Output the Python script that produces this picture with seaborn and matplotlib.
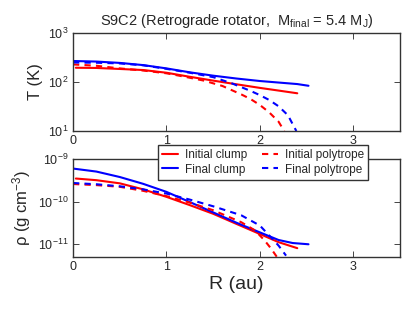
import pandas as pd
import seaborn as sns
import matplotlib
matplotlib.use('Agg')
import matplotlib.pyplot as plt
from matplotlib.ticker import NullLocator, FixedLocator

# temperature profiles (K) vs R (au)
r_T_ic = [0.03, 0.25, 0.5, 0.75, 1.0, 1.25, 1.5, 1.75, 2.0, 2.2, 2.4]
T_ic = [196, 194, 185, 176, 155, 128, 107, 90, 76, 67, 59]
r_T_fc = [0.0, 0.25, 0.5, 0.75, 1.0, 1.25, 1.5, 1.75, 2.0, 2.25, 2.4, 2.52]
T_fc = [269, 262, 246, 222, 190, 158, 135, 118, 105, 96, 91, 84]
r_T_ip = [0.0, 0.25, 0.5, 0.75, 1.0, 1.2, 1.4, 1.6, 1.8, 1.9, 2.0, 2.1, 2.2, 2.26]
T_ip = [229, 215, 190, 172, 151, 128, 107, 83, 56, 45, 34, 24, 15.5, 10]
r_T_fp = [0.0, 0.25, 0.5, 0.75, 1.0, 1.25, 1.5, 1.7, 1.9, 2.0, 2.1, 2.2, 2.3, 2.39]
T_fp = [251, 248, 240, 220, 186, 155, 126, 94, 66, 54, 43, 32, 21, 10]

# density profiles (g cm^-3) vs R (au)
r_d_ic = [0.03, 0.25, 0.5, 0.75, 1.0, 1.25, 1.5, 1.75, 2.0, 2.2, 2.4]
d_ic = [3.5e-10, 3.2e-10, 2.7e-10, 1.95e-10, 1.3e-10, 8.3e-11, 5.2e-11, 3.0e-11, 1.74e-11, 1.12e-11, 8.1e-12]
r_d_fc = [0.0, 0.25, 0.5, 0.75, 1.0, 1.25, 1.5, 1.75, 2.0, 2.2, 2.35, 2.52]
d_fc = [6.0e-10, 5.1e-10, 3.8e-10, 2.63e-10, 1.7e-10, 9.8e-11, 5.6e-11, 3.2e-11, 1.9e-11, 1.26e-11, 1.07e-11, 1.0e-11]
r_d_ip = [0.0, 0.25, 0.5, 0.75, 1.0, 1.25, 1.5, 1.8, 1.95, 2.05, 2.12, 2.18]
d_ip = [2.6e-10, 2.45e-10, 2.24e-10, 1.8e-10, 1.35e-10, 9.5e-11, 6.3e-11, 3.3e-11, 2.1e-11, 1.23e-11, 7.9e-12, 5.1e-12]
r_d_fp = [0.0, 0.25, 0.5, 0.75, 1.0, 1.25, 1.5, 1.8, 2.0, 2.1, 2.2, 2.28]
d_fp = [2.75e-10, 2.57e-10, 2.3e-10, 1.95e-10, 1.55e-10, 1.12e-10, 7.8e-11, 4.8e-11, 2.75e-11, 1.6e-11, 9.3e-12, 5.4e-12]

labels = ['Initial clump', 'Final clump', 'Initial polytrope', 'Final polytrope']
colors = ['red', 'blue', 'red', 'blue']
dashed = (0, (3, 2.5))
styles = ['-', '-', dashed, dashed]

sns.set_style('ticks')
plt.rcParams['font.family'] = ['Liberation Sans', 'DejaVu Sans']
plt.rcParams['mathtext.default'] = 'regular'
plt.rcParams['xtick.direction'] = 'in'
plt.rcParams['ytick.direction'] = 'in'

fig = plt.figure(figsize=(4.15, 3.12), dpi=100)
ax1 = fig.add_axes([0.176, 0.580, 0.788, 0.314])
ax2 = fig.add_axes([0.176, 0.176, 0.788, 0.314])

T_sets = [(r_T_ic, T_ic), (r_T_fc, T_fc), (r_T_ip, T_ip), (r_T_fp, T_fp)]
d_sets = [(r_d_ic, d_ic), (r_d_fc, d_fc), (r_d_ip, d_ip), (r_d_fp, d_fp)]

for (r, v), lab, c, ls in zip(T_sets, labels, colors, styles):
    df = pd.DataFrame({'R': r, 'v': v})
    sns.lineplot(data=df, x='R', y='v', ax=ax1, color=c, linestyle=ls, linewidth=1.5)
for (r, v), lab, c, ls in zip(d_sets, labels, colors, styles):
    df = pd.DataFrame({'R': r, 'v': v})
    sns.lineplot(data=df, x='R', y='v', ax=ax2, color=c, linestyle=ls, linewidth=1.5, label=lab)

for ax in (ax1, ax2):
    ax.set_yscale('log')
    ax.set_xlim(0, 3.5)
    ax.xaxis.set_major_locator(FixedLocator([0, 1, 2, 3]))
    ax.yaxis.set_minor_locator(NullLocator())
    ax.tick_params(which='both', top=True, right=True, labelsize=9, length=4, width=0.6, pad=3)
    for s in ax.spines.values():
        s.set_linewidth(1.0)
        s.set_color('#333333')

ax1.set_ylim(10, 1000)
ax1.set_yticks([10, 100, 1000])
ax1.set_xlabel('')
ax1.set_ylabel('T (K)', fontsize=12)
ax1.set_title(r'S9C2 (Retrograde rotator,  $M_{final}$ = 5.4 $M_J$)', fontsize=10.5, pad=6)

ax2.set_ylim(5e-12, 1e-9)
ax2.set_yticks([1e-11, 1e-10, 1e-9])
ax2.set_xlabel('R (au)', fontsize=14, labelpad=2)
ax2.set_ylabel(r'$\rho$ (g cm$^{-3}$)', fontsize=12)

ax2.legend(ncol=2, loc='upper right', bbox_to_anchor=(0.902, 1.143), borderaxespad=0,
           fontsize=8.5, fancybox=False, framealpha=1, edgecolor='#333333',
           handlelength=1.3, handletextpad=0.6, columnspacing=1.3,
           borderpad=0.35, labelspacing=0.2)

fig.savefig('out.png', dpi=100)
